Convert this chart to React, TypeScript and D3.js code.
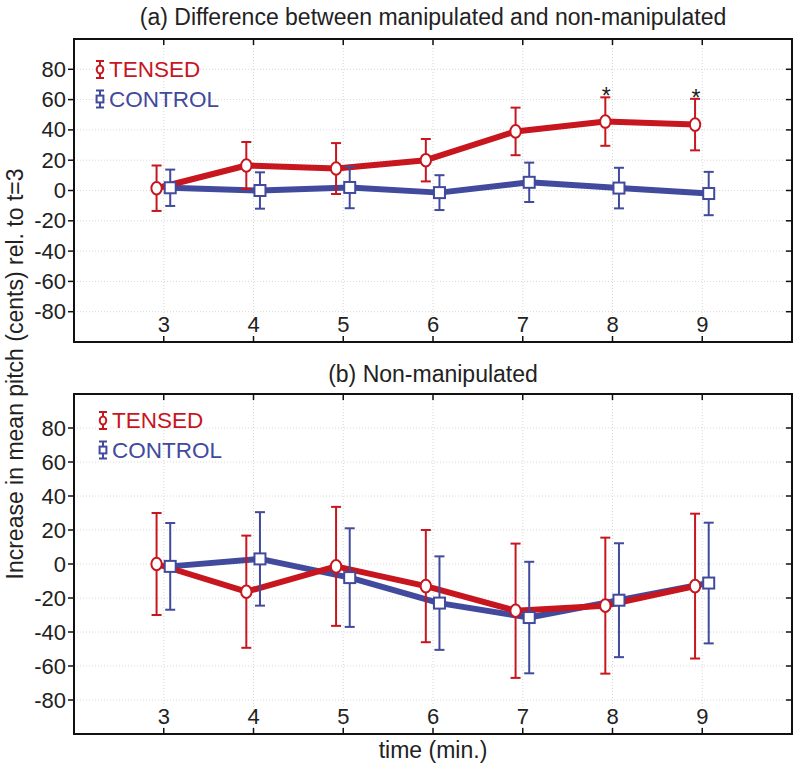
import React from "react";
import * as d3 from "d3";

const times = [3, 4, 5, 6, 7, 8, 9];
const yTickValues = [80, 60, 40, 20, 0, -20, -40, -60, -80];

const aTensedMean = [1.5, 16.5, 14.5, 20, 39, 45.5, 43.5];
const aTensedErr = [15, 15.5, 16.8, 14, 15.7, 16, 17];
const aControlMean = [1.8, 0, 2, -1.4, 5.4, 1.6, -2];
const aControlErr = [12, 12, 13.7, 11.5, 13, 13.4, 14.3];
const aSignificant = [false, false, false, false, false, true, true];

const bTensedMean = [0, -16.3, -1.4, -13, -27.5, -24.5, -13];
const bTensedErr = [30, 33, 35, 33, 39.5, 40, 42.6];
const bControlMean = [-1.4, 3, -8, -23, -31.5, -21.3, -11.2];
const bControlErr = [25.5, 27.5, 29, 27.5, 32.8, 33.5, 35.5];

const seriesNames = ["TENSED", "CONTROL"];
const RED = "#c8161f";
const BLUE = "#414a9c";
const FONT = "'Liberation Sans', Arial, sans-serif";

type PanelProps = {
  title: string;
  titleY: number;
  top: number;
  bottom: number;
  tMean: number[];
  tErr: number[];
  cMean: number[];
  cErr: number[];
  sig?: boolean[];
  legendX: number;
  legendY: number;
};

const LEFT = 74;
const RIGHT = 792;

function Marker({ kind, x, y, s }: { kind: string; x: number; y: number; s: number }) {
  if (kind === "circle") {
    return <ellipse cx={x} cy={y} rx={5.2 * s} ry={6.3 * s} fill="#fff" stroke={RED} strokeWidth={2} />;
  }
  const h = 5.5 * s;
  return <rect x={x - h} y={y - h} width={2 * h} height={2 * h} fill="#fff" stroke={BLUE} strokeWidth={2} />;
}

function Panel(p: PanelProps) {
  const x = d3.scaleLinear().domain([2, 10]).range([LEFT, RIGHT]);
  const y = d3.scaleLinear().domain([-100, 100]).range([p.bottom, p.top]);
  const line = d3
    .line<[number, number]>()
    .x((d) => d[0])
    .y((d) => d[1]);
  const series = [
    { name: seriesNames[0], mean: p.tMean, err: p.tErr, color: RED, kind: "circle", off: -0.08 },
    { name: seriesNames[1], mean: p.cMean, err: p.cErr, color: BLUE, kind: "square", off: 0.072 },
  ];
  const capW = 5;
  return (
    <g>
      <text x={(LEFT + RIGHT) / 2} y={p.titleY} textAnchor="middle" fontSize={23} fill="#222" fontFamily={FONT}>
        {p.title}
      </text>
      {times.map((t) => (
        <line key={"gx" + t} x1={x(t)} x2={x(t)} y1={p.top} y2={p.bottom} stroke="#d8d8d8" strokeWidth={1} strokeDasharray="1,2" />
      ))}
      {yTickValues.map((v) => (
        <line key={"gy" + v} x1={LEFT} x2={RIGHT} y1={y(v)} y2={y(v)} stroke="#d8d8d8" strokeWidth={1} strokeDasharray="1,2" />
      ))}
      {series
        .slice()
        .reverse()
        .map((s) => (
          <path
            key={"l" + s.name}
            d={line(times.map((t, i) => [x(t + s.off), y(s.mean[i])])) || ""}
            fill="none"
            stroke={s.color}
            strokeWidth={6}
            strokeLinejoin="round"
          />
        ))}
      {series.map((s) =>
        times.map((t, i) => {
          const cx = x(t + s.off);
          const y1 = y(s.mean[i] + s.err[i]);
          const y2 = y(s.mean[i] - s.err[i]);
          return (
            <g key={s.name + t}>
              <line x1={cx} x2={cx} y1={y1} y2={y2} stroke={s.color} strokeWidth={2} />
              <line x1={cx - capW} x2={cx + capW} y1={y1} y2={y1} stroke={s.color} strokeWidth={2} />
              <line x1={cx - capW} x2={cx + capW} y1={y2} y2={y2} stroke={s.color} strokeWidth={2} />
              <Marker kind={s.kind} x={cx} y={y(s.mean[i])} s={1} />
            </g>
          );
        })
      )}
      {p.sig &&
        times.map((t, i) =>
          p.sig![i] ? (
            <text key={"sig" + t} x={x(t + series[0].off) + 1} y={y(p.tMean[i] + p.tErr[i]) + 7} textAnchor="middle" fontSize={23} fill="#222" fontFamily={FONT}>
              *
            </text>
          ) : null
        )}
      {series.map((s, k) => {
        const ly = p.legendY + k * 29.5;
        const cy = ly - 7.5;
        return (
          <g key={"lg" + s.name}>
            <line x1={p.legendX} x2={p.legendX} y1={cy - 8.5} y2={cy + 8.5} stroke={s.color} strokeWidth={2} />
            <line x1={p.legendX - 4} x2={p.legendX + 4} y1={cy - 8.5} y2={cy - 8.5} stroke={s.color} strokeWidth={2} />
            <line x1={p.legendX - 4} x2={p.legendX + 4} y1={cy + 8.5} y2={cy + 8.5} stroke={s.color} strokeWidth={2} />
            <Marker kind={s.kind} x={p.legendX} y={cy} s={0.62} />
            <text x={p.legendX + 9} y={ly} fontSize={22.5} fill={s.color} fontFamily={FONT}>
              {s.name}
            </text>
          </g>
        );
      })}
      <rect x={LEFT} y={p.top} width={RIGHT - LEFT} height={p.bottom - p.top} fill="none" stroke="#111" strokeWidth={2} />
      {times.map((t) => (
        <g key={"xt" + t}>
          <line x1={x(t)} x2={x(t)} y1={p.top} y2={p.top + 6} stroke="#111" strokeWidth={1.5} />
          <line x1={x(t)} x2={x(t)} y1={p.bottom} y2={p.bottom - 6} stroke="#111" strokeWidth={1.5} />
          <text x={x(t)} y={p.bottom - 10} textAnchor="middle" fontSize={22} fill="#222" fontFamily={FONT}>
            {t}
          </text>
        </g>
      ))}
      {yTickValues.map((v) => (
        <g key={"yt" + v}>
          <line x1={LEFT} x2={LEFT - 6} y1={y(v)} y2={y(v)} stroke="#111" strokeWidth={1.5} />
          <line x1={RIGHT} x2={RIGHT - 6} y1={y(v)} y2={y(v)} stroke="#111" strokeWidth={1.5} />
          <text x={LEFT - 8} y={y(v) + 7.5} textAnchor="end" fontSize={22} fill="#222" fontFamily={FONT}>
            {v}
          </text>
        </g>
      ))}
    </g>
  );
}

export default function App() {
  return (
    <svg width={796} height={767} style={{ position: "absolute", left: 0, top: 0, background: "#fff" }}>
      <rect x={0} y={0} width={796} height={767} fill="#fff" />
      <Panel
        title="(a) Difference between manipulated and non-manipulated"
        titleY={25}
        top={39}
        bottom={342}
        tMean={aTensedMean}
        tErr={aTensedErr}
        cMean={aControlMean}
        cErr={aControlErr}
        sig={aSignificant}
        legendX={100}
        legendY={77}
      />
      <Panel
        title="(b) Non-manipulated"
        titleY={382}
        top={394}
        bottom={734}
        tMean={bTensedMean}
        tErr={bTensedErr}
        cMean={bControlMean}
        cErr={bControlErr}
        legendX={103}
        legendY={428}
      />
      <text x={(LEFT + RIGHT) / 2} y={758} textAnchor="middle" fontSize={23} fill="#222" fontFamily={FONT}>
        time (min.)
      </text>
      <text
        transform={`translate(23, 374) rotate(-90)`}
        textAnchor="middle"
        fontSize={23}
        fill="#222"
        fontFamily={FONT}
      >
        Increase in mean pitch (cents) rel. to t=3
      </text>
    </svg>
  );
}
